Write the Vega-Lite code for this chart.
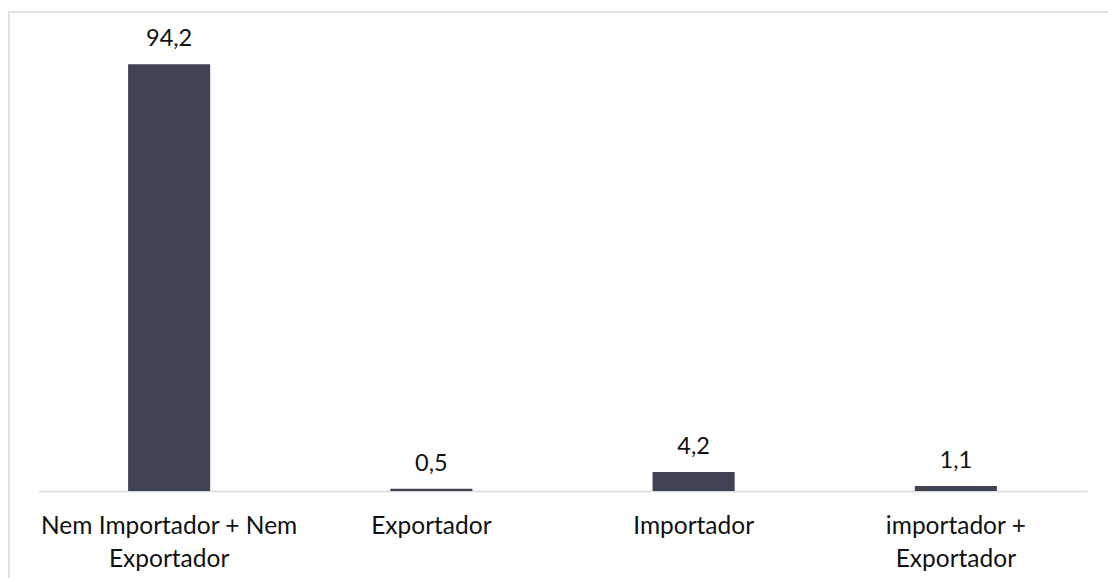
{
  "$schema": "https://vega.github.io/schema/vega-lite/v6.json",
  "width": 1102,
  "height": 572,
  "autosize": {"type": "none"},
  "padding": {"left": 9, "top": 12, "right": 0, "bottom": 0},
  "background": "white",
  "config": {
    "view": {"stroke": "#d9d9d9", "strokeWidth": 1.5},
    "locale": {"number": {"decimal": ",", "thousands": ".", "grouping": [3], "currency": ["", " €"]}},
    "font": "Lato"
  },
  "data": {
    "values": [
      {"categoria": "Nem Importador + Nem Exportador", "valor": 94.2},
      {"categoria": "Exportador", "valor": 0.5},
      {"categoria": "Importador", "valor": 4.2},
      {"categoria": "importador + Exportador", "valor": 1.1}
    ]
  },
  "encoding": {
    "x": {
      "field": "categoria",
      "type": "nominal",
      "sort": null,
      "scale": {"range": [29, 1078], "paddingInner": 0.687, "paddingOuter": 0.3435},
      "axis": {
        "title": null,
        "offset": -93,
        "labelAngle": 0,
        "labelFont": "Lato",
        "labelFontSize": 24.5,
        "labelColor": "#111111",
        "labelLineHeight": 33,
        "labelPadding": 23.5,
        "labelLimit": 400,
        "ticks": false,
        "domainColor": "#d9d9d9",
        "domainWidth": 1.5,
        "labelExpr": "(datum.value == 'Exportador' || datum.value == 'Importador') ? datum.value : split(replace(datum.value, ' Exportador', '|Exportador'), '|')"
      }
    },
    "y": {
      "field": "valor",
      "type": "quantitative",
      "scale": {"domain": [0, 100], "range": [479, 26], "nice": false},
      "axis": null
    }
  },
  "layer": [
    {"mark": {"type": "bar", "color": "#404354"}},
    {
      "mark": {"type": "text", "baseline": "alphabetic", "dy": -18, "fontSize": 23.5, "font": "Lato", "color": "#111111"},
      "encoding": {"text": {"field": "valor", "type": "quantitative", "format": ".1f"}}
    }
  ]
}
